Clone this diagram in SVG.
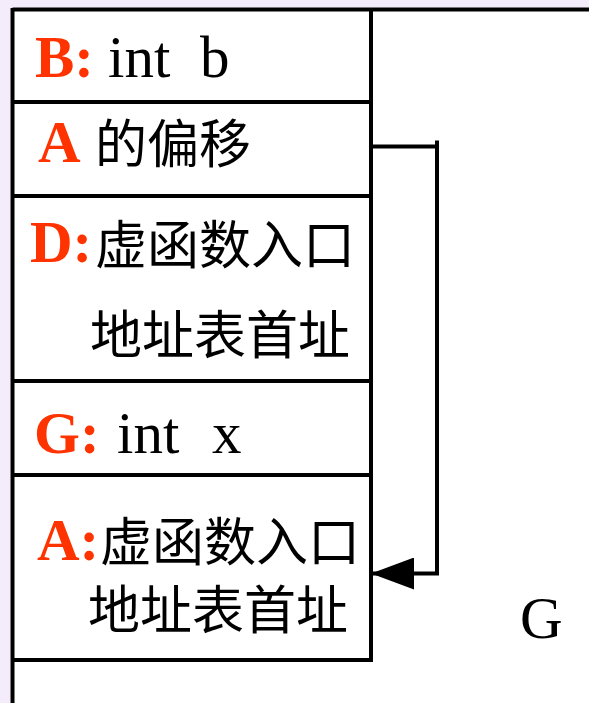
<svg xmlns="http://www.w3.org/2000/svg" width="589" height="703" viewBox="0 0 589 703">
<style>
.ln{stroke:#000;stroke-width:4;fill:none}
.lat{font-family:"Liberation Serif","Times New Roman",serif;font-size:59px;fill:#000}
.red{font-family:"Liberation Serif","Times New Roman",serif;font-size:59px;font-weight:bold;fill:#FF3300}
.cjk{font-family:"Noto Sans CJK SC","Noto Sans",sans-serif;font-size:52px;fill:#000}
</style>
<defs>
<marker id="arr" markerUnits="userSpaceOnUse" markerWidth="44" markerHeight="32" refX="43" refY="16" orient="auto">
<path d="M0,0 L43,16 L0,32 Z" fill="#000"/>
</marker>
</defs>
<rect x="0" y="0" width="589" height="703" fill="#F4ECFB"/>
<rect x="10" y="8" width="579" height="695" fill="#FFFFFF"/>
<g id="frame">
<line class="ln" x1="12.5" y1="9.5" x2="589" y2="9.5"/>
<line class="ln" x1="12.5" y1="8" x2="12.5" y2="703"/>
<line class="ln" x1="371" y1="8" x2="371" y2="662"/>
</g>
<g id="row-b">
<line class="ln" x1="11" y1="102" x2="373" y2="102"/>
<text class="red" x="35" y="77">B:</text>
<text class="lat" x="108" y="77">int</text>
<text class="lat" x="200" y="77">b</text>
</g>
<g id="row-a-offset">
<line class="ln" x1="11" y1="196" x2="373" y2="196"/>
<text class="red" x="38" y="162">A</text>
<text class="cjk" x="95" y="163">的偏移</text>
</g>
<g id="row-d">
<line class="ln" x1="11" y1="381" x2="373" y2="381"/>
<text class="red" x="30" y="262">D:</text>
<text class="cjk" x="95" y="264">虚函数入口</text>
<text class="cjk" x="90" y="354">地址表首址</text>
</g>
<g id="row-g">
<line class="ln" x1="11" y1="475" x2="373" y2="475"/>
<text class="red" x="34" y="453">G:</text>
<text class="lat" x="117" y="453">int</text>
<text class="lat" x="212" y="453">x</text>
</g>
<g id="row-a">
<line class="ln" x1="11" y1="660" x2="373" y2="660"/>
<text class="red" x="37" y="560">A:</text>
<text class="cjk" x="100" y="561">虚函数入口</text>
<text class="cjk" x="88" y="629">地址表首址</text>
</g>
<g id="label-g">
<text class="lat" x="520" y="638" font-size="61">G</text>
</g>
<g id="connectors">
<line class="ln" x1="371" y1="146.5" x2="437" y2="146.5"/>
<path class="ln" d="M437,140.5 V573.5 H371" marker-end="url(#arr)"/>
</g>
</svg>
